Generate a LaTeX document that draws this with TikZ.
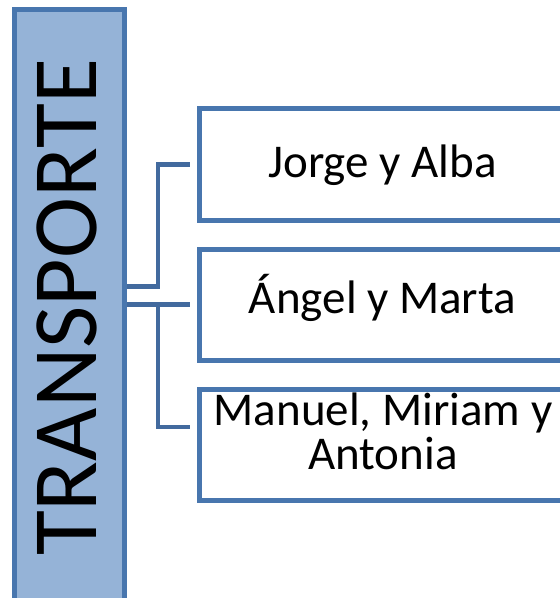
\documentclass[tikz,border=0pt]{standalone}
\usepackage{fontspec}
\setmainfont{Carlito}
\definecolor{bfill}{RGB}{149,179,215}
\definecolor{bline}{RGB}{72,118,174}
\definecolor{cline}{RGB}{66,106,158}
\begin{document}
\begin{tikzpicture}[x=1pt,y=-1pt,
  bigbox/.style={draw=bline, fill=bfill, line width=5pt, inner sep=0pt,
    minimum width=110pt, minimum height=620pt},
  itembox/.style={draw=bline, fill=white, line width=5pt, inner sep=0pt,
    minimum width=366pt},
  lbl/.style={font=\fontsize{47}{44}\selectfont, inner sep=0pt, anchor=base, align=center},
  conn/.style={draw=cline, line width=4.6pt}]
\useasboundingbox (0,0) rectangle (560,598);
\clip (0,0) rectangle (560,598);
\fill[white] (0,0) rectangle (560,598);
% main box
\node[bigbox] (T) at (69.5,319.5) {};
\node[rotate=90, anchor=base, inner sep=0pt, font=\fontsize{92}{92}\selectfont] (tt) at (96,307.5) {TRANSPORTE};
% item boxes
\node[itembox, minimum height=112pt] (b1) at (382.5,164.5) {};
\node[itembox, minimum height=111pt] (b2) at (382.5,305) {};
\node[itembox, minimum height=111pt] (b3) at (382.5,445) {};
\node[lbl] (t1) at (382.5,177) {Jorge y Alba};
\node[lbl] (t2) at (382.5,313) {Ángel y Marta};
\node[lbl] (t3) at (383,469) {Manuel, Miriam y\\Antonia};
% connectors
\coordinate (j1) at (158,286.5);
\coordinate (j2) at (158,304.5);
\coordinate (e1) at ([xshift=-7pt]b1.west);
\coordinate (e2) at ([xshift=-7pt]b2.west);
\coordinate (e3) at ([xshift=-7pt,yshift=18pt]b3.west);
\draw[conn] (T.east |- j1) -- (j1) |- (e1);
\draw[conn] (T.east |- j2) -- (e2 |- j2);
\draw[conn] (j2) |- (e3);
\end{tikzpicture}
\end{document}
